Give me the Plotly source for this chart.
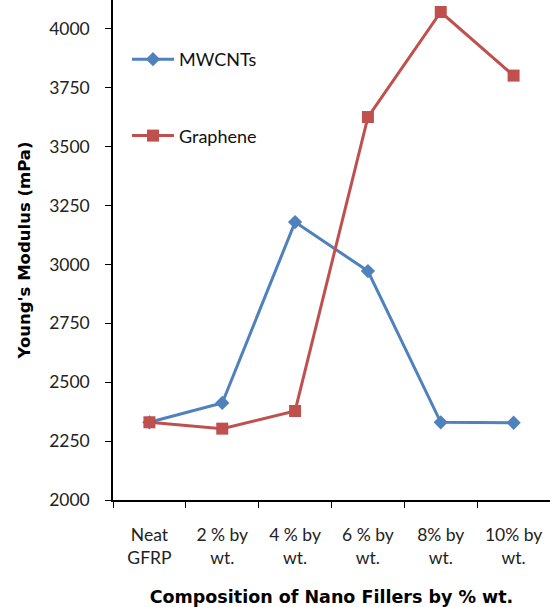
import plotly.graph_objects as go

categories = ["Neat<br>GFRP", "2 % by<br>wt.", "4 % by<br>wt.", "6 % by<br>wt.", "8% by<br>wt.", "10% by<br>wt."]
mwcnts = [2330, 2412, 3180, 2972, 2330, 2328]
graphene = [2330, 2303, 2378, 3626, 4072, 3802]
y_ticks = [2000, 2250, 2500, 2750, 3000, 3250, 3500, 3750, 4000]

blue = "#4F81BD"
red = "#C0504D"

fig = go.Figure()
fig.add_trace(go.Scatter(
    x=categories, y=mwcnts, name="MWCNTs", mode="lines+markers",
    line=dict(color=blue, width=3), marker=dict(symbol="diamond", size=11, color=blue),
    legendgroup="a", cliponaxis=False))
fig.add_trace(go.Scatter(
    x=categories, y=graphene, name="Graphene", mode="lines+markers",
    line=dict(color=red, width=3), marker=dict(symbol="square", size=12, color=red),
    legendgroup="b", cliponaxis=False))

fig.update_layout(
    width=550, height=607,
    margin=dict(l=113, r=0, t=0, b=107),
    paper_bgcolor="white", plot_bgcolor="white",
    font=dict(family="Lato, Open Sans, sans-serif", size=17.5, color="#222"),
    showlegend=True,
    legend=dict(x=0.032, y=0.918, xanchor="left", yanchor="top",
                bgcolor="rgba(0,0,0,0)", tracegroupgap=50, itemwidth=42,
                font=dict(size=18, color="#111")),
    xaxis=dict(
        type="category", range=[-0.5, 5.5],
        showline=True, linecolor="black", linewidth=1.5,
        ticks="outside", ticklen=6, tickcolor="black", tickson="boundaries",
        ticklabelstandoff=18,
        showgrid=False, zeroline=False,
        title=dict(text="<b>Composition of Nano Fillers by % wt.</b>",
                   font=dict(family="DejaVu Sans, sans-serif", size=17.5, color="black"),
                   standoff=25),
    ),
    yaxis=dict(
        range=[2000, 4123], tickvals=y_ticks,
        showline=True, linecolor="black", linewidth=1.5,
        ticks="outside", ticklen=6, tickcolor="black",
        ticklabelstandoff=12,
        showgrid=False, zeroline=False,
        title=dict(text="<b>Young's Modulus (mPa)</b>",
                   font=dict(family="DejaVu Sans, sans-serif", size=16.5, color="black"),
                   standoff=14),
    ),
)

fig.write_html("out.html")
